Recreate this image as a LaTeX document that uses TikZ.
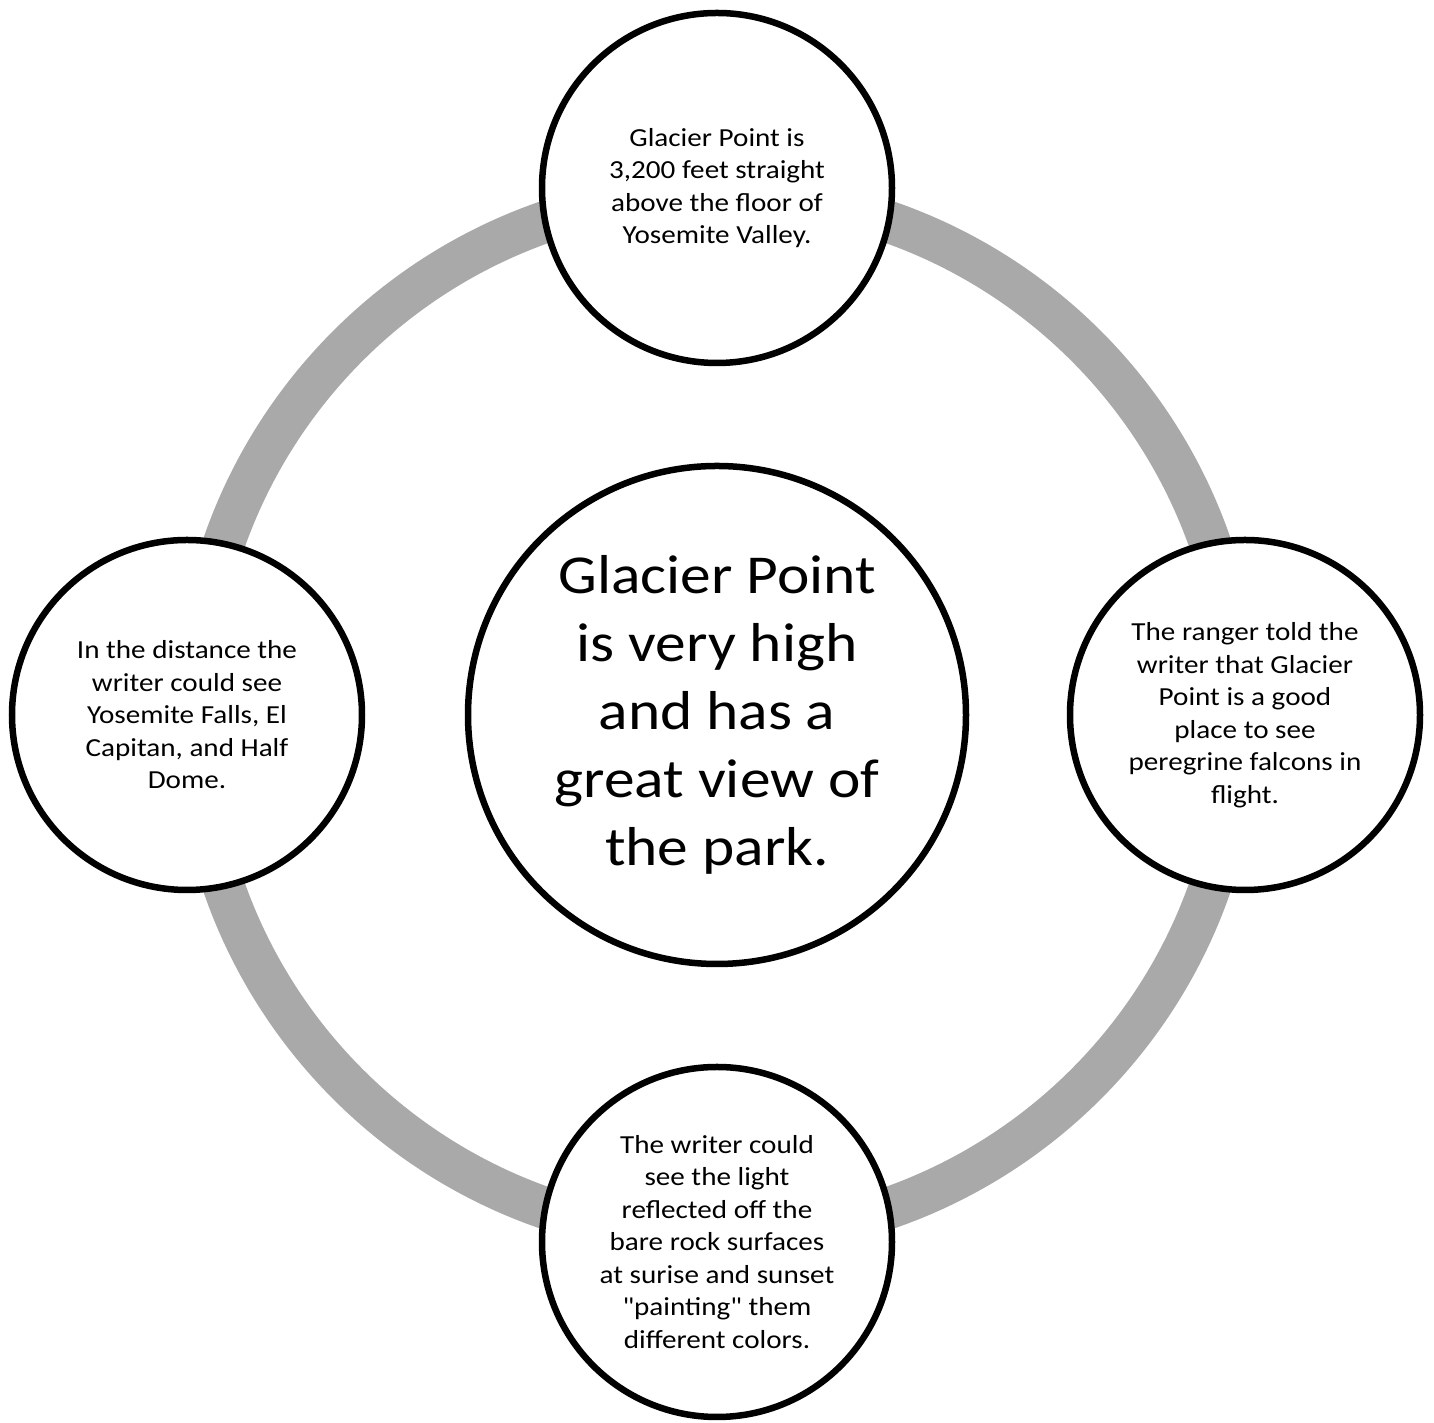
\documentclass[tikz,border=0pt]{standalone}
\usepackage{fontspec}
\setmainfont{Carlito}[Ligatures=TeXOff, FakeStretch=1.12]
\definecolor{ringgray}{RGB}{169,169,169}
\tikzset{
    hub/.style={circle, draw, line width=0.065cm, fill=white, minimum size=4.98cm,
        inner sep=0pt, align=center, font=\fontsize{15.6}{19.4}\selectfont},
    spoke/.style={circle, draw, line width=0.065cm, fill=white, minimum size=3.5cm,
        inner sep=0pt, align=center, font=\fontsize{7.4}{9.25}\selectfont}
}
\begin{document}
\begin{tikzpicture}
    \useasboundingbox (0,0) rectangle (14.34,14.23);

    % gray ring behind the circles
    \coordinate (c) at (7.17,7.08);
    \draw[ringgray, line width=0.42cm] (c) circle (5.22);

    \node[hub] (hub) at (c) {Glacier Point\\is very high\\and has a\\great view of\\the park.};

    \node[spoke] (top) at (7.17,12.35) {Glacier Point is\\3,200 feet straight\\above the floor of\\Yosemite Valley.};
    \node[spoke] (right) at (12.45,7.08) {The ranger told the\\writer that Glacier\\Point is a good\\place to see\\peregrine falcons in\\flight.};
    \node[spoke] (bottom) at (7.17,1.81) {The writer could\\see the light\\reflected off the\\bare rock surfaces\\at surise and sunset\\"painting" them\\different colors.};
    \node[spoke] (left) at (1.87,7.08) {In the distance the\\writer could see\\Yosemite Falls, El\\Capitan, and Half\\Dome.};
\end{tikzpicture}
\end{document}
